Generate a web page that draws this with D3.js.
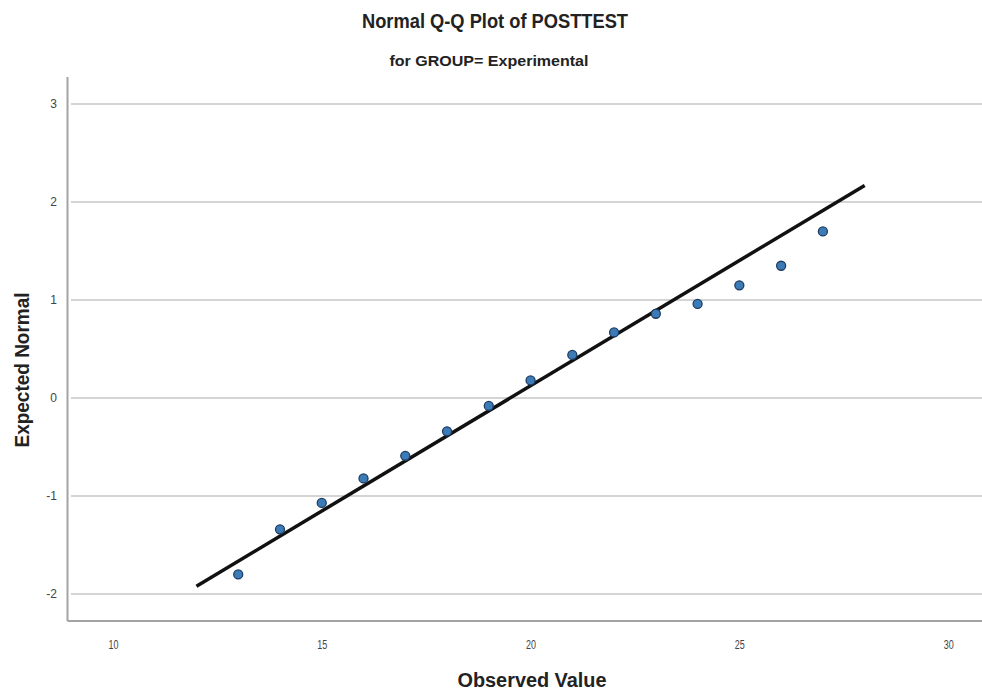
<!DOCTYPE html>
<html>
<head>
<meta charset="utf-8">
<script src="https://cdn.jsdelivr.net/npm/d3@7"></script>
<style>
  body { margin: 0; background: #fff; }
  text { font-family: "Liberation Sans Narrow", "Arial Narrow", "Liberation Sans", sans-serif; }
</style>
</head>
<body>
<div id="chart"></div>
<script>

var observed = [13, 14, 15, 16, 17, 18, 19, 20, 21, 22, 23, 24, 25, 26, 27];
var expected = [-1.80, -1.34, -1.07, -0.82, -0.59, -0.34, -0.08, 0.18, 0.44, 0.67, 0.86, 0.96, 1.15, 1.35, 1.70];

// reference line endpoints
var line_x = [12, 28];
var line_y = [-1.92, 2.17];

var x_ticks = [10, 15, 20, 25, 30];
var y_ticks = [-2, -1, 0, 1, 2, 3];

var width = 982, height = 695;
var point_fill = '#3d7bb6';
var point_stroke = '#1d3d63';

var svg = d3.select('#chart').append('svg')
  .attr('width', width)
  .attr('height', height);

// scales
var x = d3.scaleLinear().domain([8.9, 30.81]).range([67, 982]);
var y = d3.scaleLinear().domain([-2.27, 3.28]).range([620.5, 76.6]);

// grid lines
svg.append('g')
  .selectAll('line')
  .data(y_ticks)
  .enter()
  .append('line')
  .attr('x1', x(8.9) + 4)
  .attr('x2', width)
  .attr('y1', function(d){ return y(d); })
  .attr('y2', function(d){ return y(d); })
  .style('stroke', '#c6c6c6')
  .style('stroke-width', 1.5);

// y axis
var y_axis = svg.append('g')
  .attr('transform', 'translate(' + x(8.9) + ',0)')
  .call(d3.axisLeft(y).tickValues(y_ticks).tickSize(0).tickSizeOuter(0)
    .tickFormat(function(d){ return String(d); }));
y_axis.select('.domain').style('stroke', '#a3a3a3').style('stroke-width', 2);
y_axis.selectAll('text')
  .style('font-size', '12px')
  .style('fill', '#444')
  .attr('x', -10);

// x axis
var x_axis = svg.append('g')
  .attr('transform', 'translate(0,' + y(-2.27) + ')')
  .call(d3.axisBottom(x).tickValues(x_ticks).tickSize(0).tickSizeOuter(0)
    .tickFormat(function(d){ return String(d); }));
x_axis.select('.domain').style('stroke', '#a3a3a3').style('stroke-width', 2);
x_axis.selectAll('text')
  .style('font-size', '12px')
  .style('fill', '#444')
  .attr('y', 20)
  .attr('textLength', 10)
  .attr('lengthAdjust', 'spacingAndGlyphs');

// reference line
var ref = line_x.map(function(d, i){ return {x: d, y: line_y[i]}; });
svg.append('path')
  .datum(ref)
  .attr('d', d3.line()
    .x(function(d){ return x(d.x); })
    .y(function(d){ return y(d.y); }))
  .style('fill', 'none')
  .style('stroke', '#111')
  .style('stroke-width', 3.5);

// points
svg.selectAll('.dot')
  .data(observed)
  .enter()
  .append('circle')
  .attr('class', 'dot')
  .attr('cx', function(d){ return x(d); })
  .attr('cy', function(d, i){ return y(expected[i]); })
  .attr('r', 4.5)
  .style('fill', point_fill)
  .style('stroke', point_stroke)
  .style('stroke-width', 1.3);

// titles (narrow font squeezed to the widths seen in the picture)
function label(txt, tx, ty, size, len, rot){
  return svg.append('text')
    .attr('transform', 'translate(' + tx + ',' + ty + ')' + (rot ? ' rotate(-90)' : ''))
    .attr('text-anchor', 'middle')
    .attr('textLength', len)
    .attr('lengthAdjust', 'spacingAndGlyphs')
    .style('font-size', size + 'px')
    .style('font-weight', 'bold')
    .style('fill', '#222')
    .text(txt);
}

label('Normal Q-Q Plot of POSTTEST', 495, 28, 20, 266);
label('for GROUP= Experimental', 489, 66, 15, 199);
label('Observed Value', 532, 687, 20, 149);
label('Expected Normal', 29, 370, 20, 155, true);

</script>
</body>
</html>
